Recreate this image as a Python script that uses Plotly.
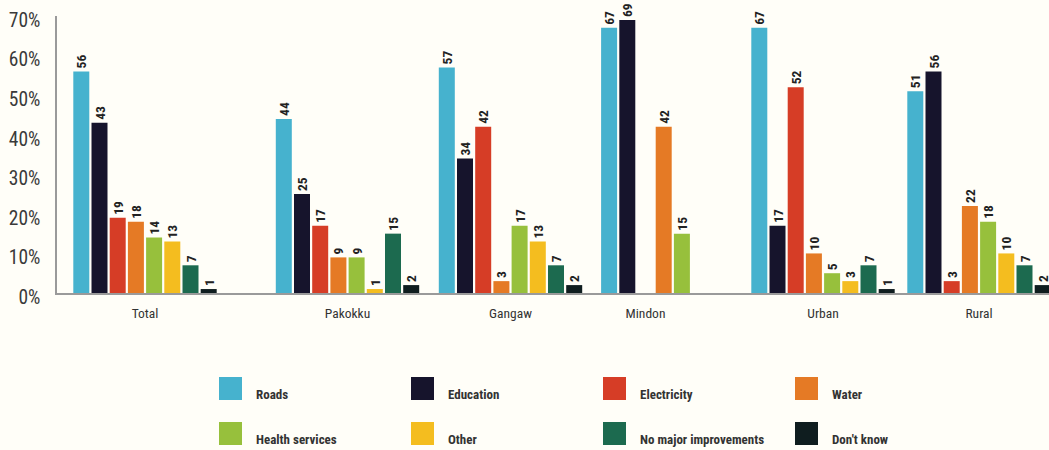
import plotly.graph_objects as go

# ---- data -------------------------------------------------------------
GROUPS = ["Total", "Pakokku", "Gangaw", "Mindon", "Urban", "Rural"]

SERIES = ["Roads", "Education", "Electricity", "Water",
          "Health services", "Other", "No major improvements", "Don't know"]

ROADS = [56, 44, 57, 67, 67, 51]
EDUCATION = [43, 25, 34, 69, 17, 56]
ELECTRICITY = [19, 17, 42, None, 52, 3]
WATER = [18, 9, 3, 42, 10, 22]
HEALTH = [14, 9, 17, 15, 5, 18]
OTHER = [13, 1, 13, None, 3, 10]
NO_MAJOR = [7, 15, 7, None, 7, 7]
DONT_KNOW = [1, 2, 2, None, 1, 2]

VALUES = [ROADS, EDUCATION, ELECTRICITY, WATER, HEALTH, OTHER, NO_MAJOR, DONT_KNOW]

Y_TICKS = [0, 10, 20, 30, 40, 50, 60, 70]

# ---- styling / layout ---------------------------------------------------
COLORS = ["#46B2CE", "#16142C", "#D63D26", "#E57A25",
          "#97C03C", "#F4BD1F", "#1C6A4F", "#0F1D1F"]
BG = "#FFFEF8"
FONT = "Roboto Condensed, Roboto, sans-serif"

W, H = 1049, 450
M_L, M_R, M_T, M_B = 57, 0, 16, 157
PLOT_W = W - M_L - M_R
PLOT_H = H - M_T - M_B

# x axis runs in pixel-like units across the plotting area
GROUP_POS = [88, 290.5, 453.5, 588.5, 766, 922]
SLOT = 18.2
BAR_W = 16


def slots_used(g):
    """Number of bar slots a group occupies (trailing blanks are dropped)."""
    used = 0
    for i, vals in enumerate(VALUES):
        if vals[g] is not None:
            used = i + 1
    return used


N_SLOTS = [slots_used(g) for g in range(len(GROUPS))]

fig = go.Figure()

for i, (name, vals, color) in enumerate(zip(SERIES, VALUES, COLORS)):
    xs, ys = [], []
    for g, v in enumerate(vals):
        if v is None:
            continue
        xs.append(GROUP_POS[g] + (i - (N_SLOTS[g] - 1) / 2) * SLOT)
        ys.append(v)
    fig.add_trace(go.Bar(
        x=xs, y=ys, name=name, width=BAR_W,
        marker=dict(color=color, line=dict(width=0)),
        text=ys, texttemplate="%{text}", textposition="outside",
        textangle=-90, constraintext="none", cliponaxis=False,
        textfont=dict(family=FONT, size=13.5, color="#222222", weight="bold"),
        showlegend=False, hoverinfo="skip",
    ))


# ---- legend built from series names and colours ------------------------
def px_to_paper_x(px):
    return (px - M_L) / PLOT_W


def px_to_paper_y(py):
    return (H - M_B - py) / PLOT_H


LEG_COL_X = [219, 411, 603, 795]
LEG_ROW_Y = [377, 422]
SW = 23
shapes, annotations = [], []
for k, (name, color) in enumerate(zip(SERIES, COLORS)):
    r, c = divmod(k, 4)
    x0, y0 = LEG_COL_X[c], LEG_ROW_Y[r]
    shapes.append(dict(
        type="rect", xref="paper", yref="paper",
        x0=px_to_paper_x(x0), x1=px_to_paper_x(x0 + SW),
        y0=px_to_paper_y(y0), y1=px_to_paper_y(y0 + SW),
        fillcolor=color, line=dict(width=0),
    ))
    annotations.append(dict(
        xref="paper", yref="paper",
        x=px_to_paper_x(x0 + 35), y=px_to_paper_y(y0 + SW / 2 + 6),
        xanchor="left", yanchor="middle", showarrow=False,
        text=name, font=dict(family=FONT, size=13, color="#333333", weight="bold"),
    ))

fig.update_layout(
    width=W, height=H,
    margin=dict(l=M_L, r=M_R, t=M_T, b=M_B, pad=0),
    paper_bgcolor=BG, plot_bgcolor=BG,
    barmode="overlay",
    shapes=shapes, annotations=annotations,
    xaxis=dict(
        range=[0, PLOT_W], tickmode="array", tickvals=GROUP_POS, ticktext=GROUPS,
        showgrid=False, zeroline=False, showline=True, linecolor="#9A9A9A",
        linewidth=1.5, ticks="", ticklabelstandoff=7,
        tickfont=dict(family=FONT, size=13.5, color="#333333"),
        fixedrange=True,
    ),
    yaxis=dict(
        range=[0, 70], tickmode="array", tickvals=Y_TICKS,
        ticktext=[f"{t}%" for t in Y_TICKS],
        showgrid=False, zeroline=False, showline=True, linecolor="#9A9A9A",
        linewidth=1.5, ticks="", ticklabelstandoff=11, ticklabelshift=4,
        tickfont=dict(family=FONT, size=19.5, color="#3A3A3A"),
        fixedrange=True,
    ),
)

fig.write_html("out.html")
